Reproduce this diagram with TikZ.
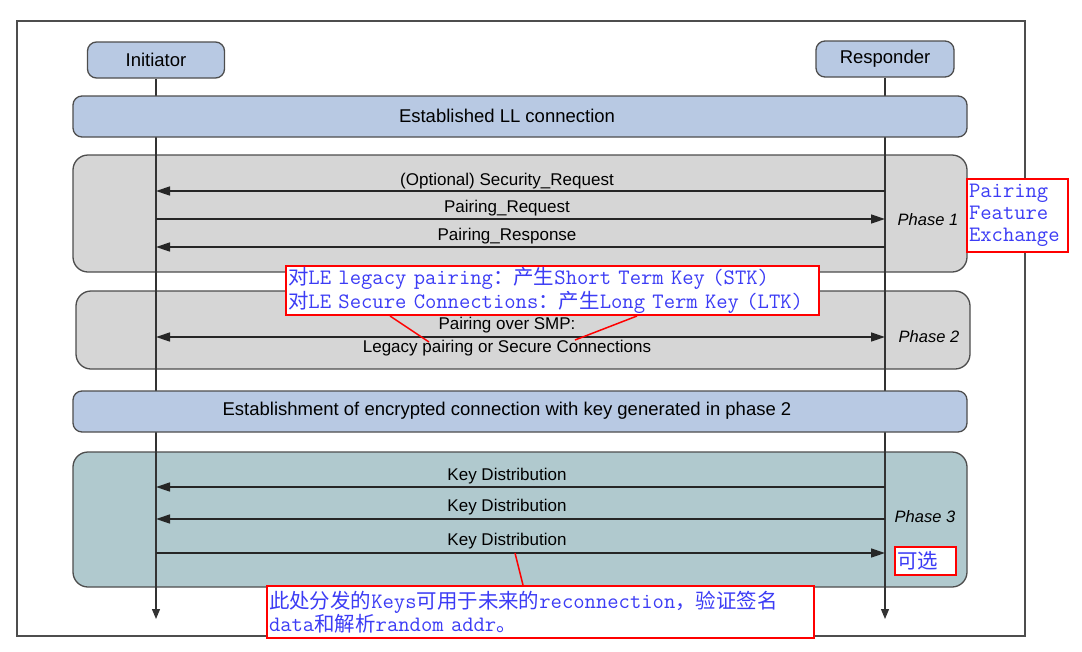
\documentclass[tikz,border=0pt]{standalone}
\usepackage{fontspec}
\setmainfont{Liberation Sans}
\newfontfamily\cjk[Scale=0.93]{Noto Sans CJK SC}
\usetikzlibrary{arrows.meta}
\definecolor{bline}{RGB}{77,77,77}
\definecolor{lblue}{RGB}{184,201,227}
\definecolor{pgray}{RGB}{214,214,214}
\definecolor{pteal}{RGB}{176,201,206}
\definecolor{annblue}{RGB}{60,60,245}
\begin{document}
\begin{tikzpicture}[x=1pt,y=-1pt,
  lifebox/.style={draw=bline, fill=lblue, rounded corners=9pt, line width=1.3pt, inner sep=0pt},
  phasebox/.style={draw=bline, rounded corners=15pt, line width=1.3pt, inner sep=0pt},
  lbl/.style={font=\fontsize{17}{19}\selectfont, inner sep=0pt},
  hdr/.style={font=\fontsize{18.5}{21}\selectfont},
  phl/.style={font=\fontsize{16.5}{19}\selectfont\itshape, inner sep=0pt},
  msg/.style={line width=1.4pt, draw=black!85, -{Triangle[length=14pt,width=9pt]}},
  dmsg/.style={line width=1.4pt, draw=black!85, {Triangle[length=14pt,width=9pt]}-{Triangle[length=14pt,width=9pt]}},
  life/.style={line width=1.2pt, draw=black!80, -{Triangle[length=10pt,width=8pt]}},
  ann/.style={draw=red, line width=2pt, fill=white, text=annblue, font=\ttfamily\fontsize{22}{22}\selectfont, align=left, anchor=north west, inner xsep=2pt, inner ysep=0pt},
  redline/.style={draw=red, line width=1.5pt}
]
\useasboundingbox (0,0) rectangle (1082,651);
% frame
\draw[bline, line width=1.3pt] (17,21) rectangle (1025,636);

% phase boxes
\node[phasebox, fill=pgray, minimum width=894, minimum height=117] (ph1) at (520,213.5) {};
\node[phasebox, fill=pgray, minimum width=894, minimum height=78] (ph2) at (523,330) {};
\node[phasebox, fill=pteal, minimum width=894, minimum height=135] (ph3) at (520,519.5) {};

% actors
\node[lifebox, hdr, minimum width=137, minimum height=36] (init) at (156,60) {Initiator};
\node[lifebox, hdr, minimum width=138, minimum height=36] (resp) at (885,59) {Responder};

% lifelines
\coordinate (iend) at (156,619);
\coordinate (rend) at (885,619);
\draw[life] (init.south) -- (iend);
\draw[life] (resp.south) -- (rend);

% blue bars
\node[lifebox, minimum width=894, minimum height=41] (ll) at (520,116.5) {};
\node[hdr, inner sep=0pt] at (507,116) {Established LL connection};
\node[lifebox, minimum width=894, minimum height=41] (enc) at (520,411.5) {};
\node[hdr, inner sep=0pt] at (507,411) {Establishment of encrypted connection with key generated in phase 2};

% message end points on the lifelines
\foreach \n/\y in {1/191,2/219,3/247,4/337,5/487,6/519,7/553}{
  \coordinate (i\n) at (init |- 0,\y);
  \coordinate (r\n) at (resp |- 0,\y);
}
% phase 1
\draw[msg] (r1) -- (i1);
\node[lbl] at (507,181) {(Optional) Security\_Request};
\draw[msg] (i2) -- (r2);
\node[lbl] at (507,208) {Pairing\_Request};
\draw[msg] (r3) -- (i3);
\node[lbl] at (507,236.5) {Pairing\_Response};
\node[phl] at (928,219.5) {Phase 1};

% phase 2
\draw[dmsg] (i4) -- (r4);
\node[lbl] at (507,325.5) {Pairing over SMP:};
\node[lbl] at (507,348) {Legacy pairing or Secure Connections};
\node[phl] at (929,337) {Phase 2};

% phase 3
\draw[msg] (r5) -- (i5);
\node[lbl] at (507,476.5) {Key Distribution};
\draw[msg] (r6) -- (i6);
\node[lbl] at (507,507.5) {Key Distribution};
\draw[msg] (i7) -- (r7);
\node[lbl] at (507,541.5) {Key Distribution};
\node[phl] at (925,516.5) {Phase 3};

% annotations
\node[ann, minimum width=101, minimum height=73, text width=97] (a1) at (966,178)
  {Pairing\\Feature\\Exchange};
\node[ann, minimum width=533, minimum height=49, text width=529] (a2) at (285,265)
  {{\cjk 对}LE legacy pairing{\cjk ：产生}Short Term Key (STK)\\{\cjk 对}LE Secure Connections{\cjk ：产生}Long Term Key (LTK)};
\node[ann, minimum width=61, minimum height=28, text width=57] (a3) at (894,546)
  {{\cjk 可选}};
\node[ann, minimum width=547, minimum height=52, text width=543] (a4) at (266,585)
  {{\cjk 此处分发的}Keys{\cjk 可用于未来的}reconnection{\cjk ，验证签名}\\data{\cjk 和解析}random addr{\cjk 。}};

% red pointers
\coordinate (p2a) at (429,342);
\coordinate (p2b) at (575,340);
\draw[redline] (390,0 |- a2.south) -- (p2a);
\draw[redline] (637,0 |- a2.south) -- (p2b);
\coordinate (k3) at (515,553);
\draw[redline] (k3) -- (523,0 |- a4.north);
\end{tikzpicture}
\end{document}
